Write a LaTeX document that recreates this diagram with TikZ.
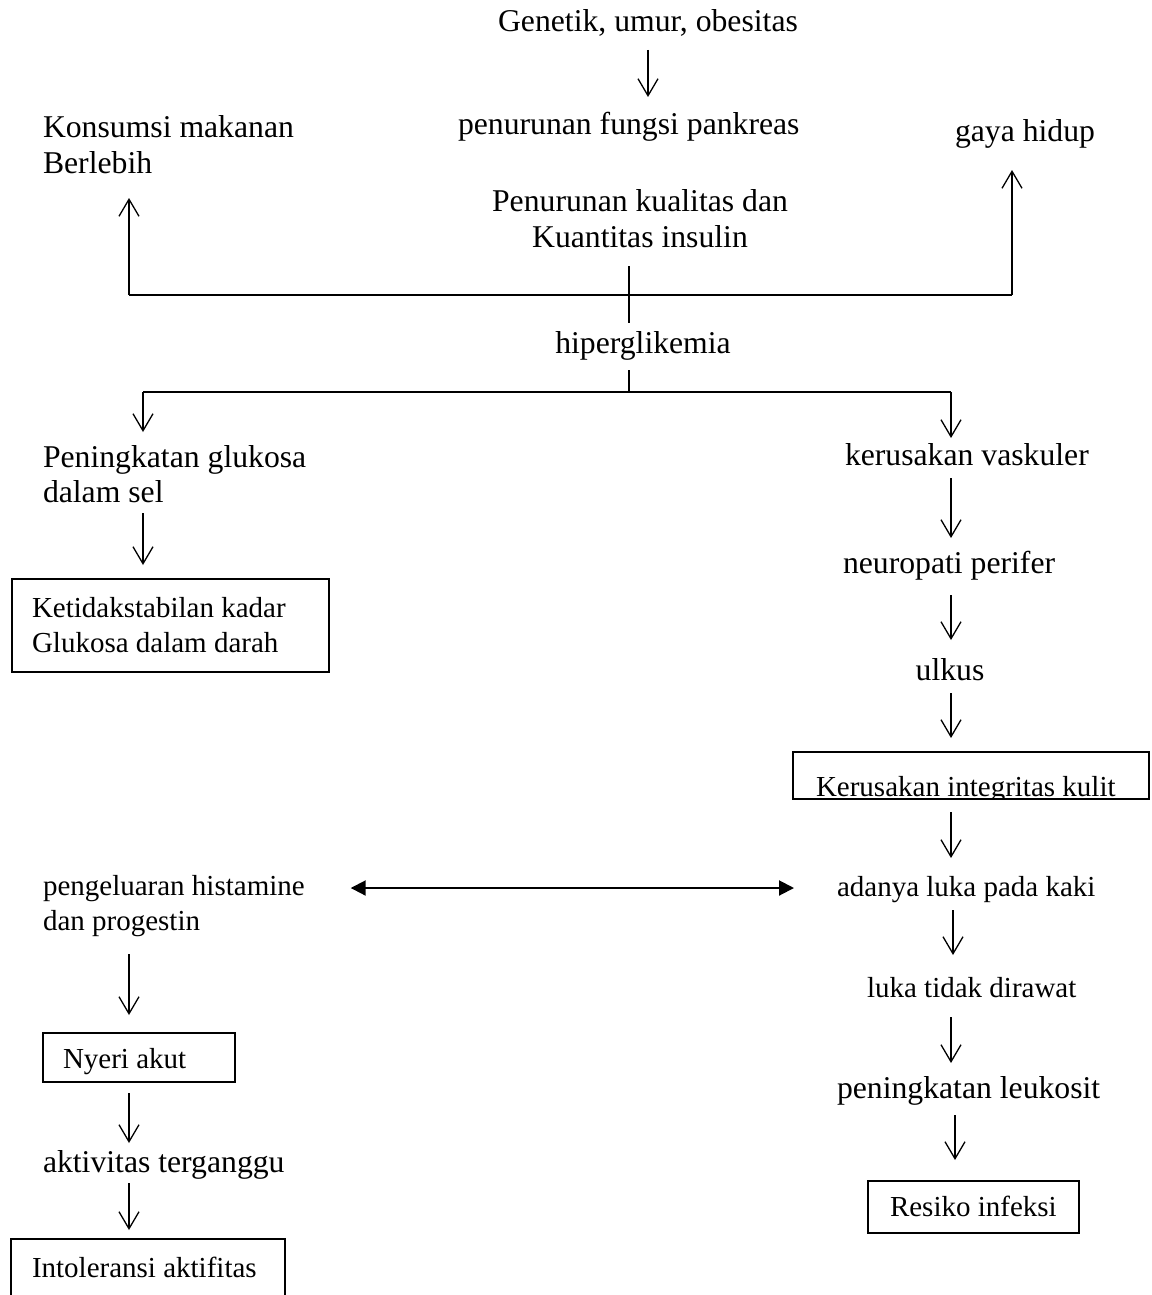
\documentclass[tikz,border=0pt]{standalone}
\usepackage{fontspec}
\setmainfont{Liberation Serif}
\usetikzlibrary{arrows.meta}
\begin{document}
\begin{tikzpicture}[x=1pt,y=-1pt,
  big/.style={font=\fontsize{31.7}{36}\selectfont, inner sep=0pt, outer sep=0pt, text height=22pt, text depth=7pt},
  sml/.style={font=\fontsize{29}{34}\selectfont, inner sep=0pt, outer sep=0pt, text height=20pt, text depth=6pt},
  boxn/.style={draw, line width=1.3pt, inner sep=0pt, outer sep=0pt, anchor=north west},
  ln/.style={line width=1.3pt},
  arr/.style={line width=1.3pt, -{Straight Barb[length=17pt,width=20pt,line width=1.3pt]}},
  dbl/.style={line width=2pt, {Triangle[length=15pt,width=15pt]}-{Triangle[length=15pt,width=15pt]}},
  busA/.style={line width=2.6pt},
  busB/.style={line width=2pt}]
\useasboundingbox (0,0) rectangle (1151,1295);

% texts
\node[big,anchor=base] (gen) at (648,32) {Genetik, umur, obesitas};
\node[big,anchor=base west] (pank) at (458,135) {penurunan fungsi pankreas};
\node[big,anchor=base west] (kons1) at (43,137) {Konsumsi makanan};
\node[big,anchor=base west] (kons2) at (43,173) {Berlebih};
\node[big,anchor=base west] (gaya) at (955,142) {gaya hidup};
\node[big,anchor=base] (kual1) at (640,211) {Penurunan kualitas dan};
\node[big,anchor=base] (kual2) at (640,247) {Kuantitas insulin};
\node[big,anchor=base] (hip) at (643,353) {hiperglikemia};
\node[big,anchor=base west] (gluk1) at (43,467) {Peningkatan glukosa};
\node[big,anchor=base west] (gluk2) at (43,502) {dalam sel};
\node[big,anchor=base west] (vask) at (845,465) {kerusakan vaskuler};
\node[big,anchor=base west] (neuro) at (843,573) {neuropati perifer};
\node[big,anchor=base] (ulkus) at (950,680) {ulkus};

\node[boxn, minimum width=317pt, minimum height=93pt] (ktbbox) at (12,579) {};
\node[sml,anchor=base west] (ktb1) at (32,617) {Ketidakstabilan kadar};
\node[sml,anchor=base west] (ktb2) at (32,652) {Glukosa dalam darah};

\begin{scope}
  \clip (793,752) rectangle (1149,799);
  \node[sml,anchor=base west] (kulit) at (816,796) {Kerusakan integritas kulit};
\end{scope}
\node[boxn, minimum width=356pt, minimum height=47pt] (kulitbox) at (793,752) {};

\node[sml,anchor=base west] (luka) at (837,896) {adanya luka pada kaki};
\node[sml,anchor=base west] (hist1) at (43,895) {pengeluaran histamine};
\node[sml,anchor=base west] (hist2) at (43,930) {dan progestin};
\node[sml,anchor=base west] (rawat) at (867,997) {luka tidak dirawat};
\node[big,anchor=base west] (leuk) at (837,1098) {peningkatan leukosit};

\node[boxn, minimum width=211pt, minimum height=52pt] (resbox) at (868,1181) {};
\node[sml,anchor=base west] (res) at (890,1216) {Resiko infeksi};

\node[boxn, minimum width=192pt, minimum height=49pt] (nyeribox) at (43,1033) {};
\node[sml,anchor=base west] (nyeri) at (63,1068) {Nyeri akut};
\node[big,anchor=base west] (akt) at (43,1172) {aktivitas terganggu};
\node[boxn, minimum width=274pt, minimum height=80pt] (intolbox) at (11,1239) {};
\node[sml,anchor=base west] (intol) at (32,1277) {Intoleransi aktifitas};

% bus coordinates
\coordinate (busL) at (129,295);
\coordinate (busR) at (1012,295);
\coordinate (bus2L) at (143,392);
\coordinate (bus2R) at (951,392);

% connectors
\draw[arr] ([yshift=-11pt]gen.south) -- ([yshift=16pt]gen.south |- pank.north);
\draw[busA] (busL) -- (busR);
\draw[arr] (busL) -- ([yshift=-18pt]busL |- kons2.south);
\draw[arr] (busR) -- ([yshift=-21pt]busR |- gaya.south);
\draw[ln] ([xshift=-11pt,yshift=-12pt]kual2.south) -- ([xshift=-11pt,yshift=8pt]kual2.south |- hip.north);
\draw[ln] ([xshift=-14pt,yshift=-10pt]hip.south) -- ([xshift=-14pt]hip.south |- bus2L);
\draw[busB] (bus2L) -- (bus2R);
\draw[arr] (bus2L) -- ([yshift=13pt]bus2L |- gluk1.north);
\draw[arr] (bus2R) -- ([yshift=5pt]bus2R |- vask.north);
\draw[arr] ([yshift=-4pt]bus2L |- gluk2.south) -- ([yshift=14pt]bus2L |- ktbbox.north);
\draw[arr] ([yshift=-6pt]bus2R |- vask.south) -- ([yshift=13pt]bus2R |- neuro.north);
\draw[arr] ([yshift=-15pt]bus2R |- neuro.south) -- ([yshift=18pt]bus2R |- ulkus.north);
\draw[arr] ([yshift=-6pt]bus2R |- ulkus.south) -- ([yshift=14pt]bus2R |- kulitbox.north);
\draw[arr] ([yshift=-13pt]bus2R |- kulitbox.south) -- ([yshift=18pt]bus2R |- luka.north);
\draw[arr] ([xshift=2pt,yshift=-8pt]bus2R |- luka.south) -- ([xshift=2pt,yshift=22pt]bus2R |- rawat.north);
\draw[arr] ([yshift=-14pt]bus2R |- rawat.south) -- ([yshift=13pt]bus2R |- leuk.north);
\draw[arr] ([xshift=4pt,yshift=-10pt]bus2R |- leuk.south) -- ([xshift=4pt,yshift=21pt]bus2R |- resbox.north);
\draw[dbl] ([xshift=46pt]hist1.east) -- ([xshift=-43pt]hist1.east -| luka.west);
\draw[arr] ([yshift=-18pt]busL |- hist2.south) -- ([yshift=18pt]busL |- nyeribox.north);
\draw[arr] ([yshift=-11pt]busL |- nyeribox.south) -- ([yshift=7pt]busL |- akt.north);
\draw[arr] ([yshift=-4pt]busL |- akt.south) -- ([yshift=9pt]busL |- intolbox.north);
\end{tikzpicture}
\end{document}
